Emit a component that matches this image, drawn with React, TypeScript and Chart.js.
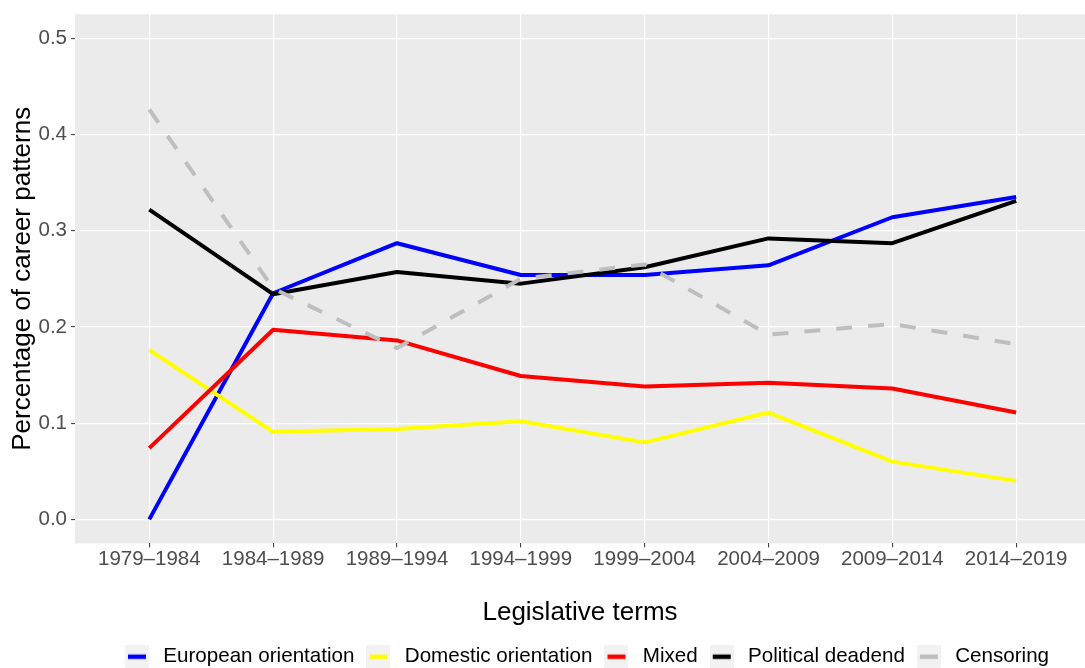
import React, { useEffect, useRef } from 'react';
import { Chart, registerables } from 'chart.js';

Chart.register(...registerables);

const terms = ['1979–1984', '1984–1989', '1989–1994', '1994–1999', '1999–2004', '2004–2009', '2009–2014', '2014–2019'];

const european = [0.0, 0.235, 0.287, 0.254, 0.254, 0.264, 0.314, 0.335];
const domestic = [0.176, 0.091, 0.094, 0.102, 0.08, 0.111, 0.06, 0.04];
const mixed = [0.074, 0.197, 0.186, 0.149, 0.138, 0.142, 0.136, 0.111];
const deadend = [0.322, 0.234, 0.257, 0.245, 0.262, 0.292, 0.287, 0.331];
const censoring = [0.426, 0.24, 0.178, 0.25, 0.265, 0.192, 0.203, 0.182];

const seriesNames = ['European orientation', 'Domestic orientation', 'Mixed', 'Political deadend', 'Censoring'];
const seriesValues = [european, domestic, mixed, deadend, censoring];
const seriesColors = ['#0000FF', '#FFFF00', '#FF0000', '#000000', '#BEBEBE'];
const seriesDashed = [false, false, false, false, true];

const yTickValues = [0, 0.1, 0.2, 0.3, 0.4, 0.5];

const FONT = "'Liberation Sans', Arial, Helvetica, sans-serif";

function makeKey(color: string): HTMLCanvasElement {
  const c = document.createElement('canvas');
  c.width = 24;
  c.height = 24;
  const ctx = c.getContext('2d')!;
  ctx.fillStyle = '#F2F2F2';
  ctx.fillRect(0, 0, 24, 24);
  ctx.strokeStyle = color;
  ctx.lineWidth = 4.5;
  ctx.lineCap = 'butt';
  ctx.beginPath();
  ctx.moveTo(3, 12);
  ctx.lineTo(21, 12);
  ctx.stroke();
  return c;
}

const panelBg = {
  id: 'panelBg',
  afterLayout(chart: any) {
    const lg = chart.legend;
    if (lg) {
      lg.left += 5;
      lg.right += 5;
    }
  },
  beforeDraw(chart: any) {
    const { ctx, chartArea } = chart;
    ctx.save();
    ctx.fillStyle = '#EBEBEB';
    ctx.fillRect(chartArea.left, chartArea.top, chartArea.right - chartArea.left, chartArea.bottom - chartArea.top);
    ctx.restore();
  },
};

export default function App() {
  const ref = useRef<HTMLCanvasElement>(null);

  useEffect(() => {
    document.body.style.margin = '0';
    const keys = seriesColors.map((c) => makeKey(c));
    const datasets = seriesNames.map((name, i) => ({
      label: name,
      data: seriesValues[i].map((v, j) => ({ x: j, y: v })),
      borderColor: seriesColors[i],
      backgroundColor: seriesColors[i],
      borderWidth: 4,
      borderDash: seriesDashed[i] ? [16, 16] : [],
      borderCapStyle: 'butt',
      borderJoinStyle: 'round',
      pointRadius: 0,
      pointHoverRadius: 0,
      tension: 0,
      fill: false,
      order: seriesNames.length - 1 - i,
    }));

    const chart = new Chart(ref.current!, {
      type: 'line',
      data: { datasets },
      plugins: [panelBg],
      options: {
        responsive: false,
        animation: false,
        layout: { padding: { top: 10, right: 0, bottom: -9, left: 0 } },
        plugins: {
          tooltip: { enabled: false },
          legend: {
            position: 'bottom',
            fullSize: false,
            labels: {
              usePointStyle: true,
              pointStyleWidth: 32,
              padding: 8,
              color: '#000000',
              font: { size: 20.6, family: FONT },
              generateLabels: (ch: any) =>
                ch.data.datasets.map((ds: any, i: number) => ({
                  text: ds.label,
                  pointStyle: keys[i],
                  fillStyle: seriesColors[i],
                  strokeStyle: seriesColors[i],
                  lineWidth: 0,
                  hidden: false,
                  datasetIndex: i,
                  fontColor: '#000000',
                })),
            },
          },
        },
        scales: {
          x: {
            type: 'linear',
            min: -0.6,
            max: 7.556,
            afterBuildTicks: (s: any) => {
              s.ticks = terms.map((_, i) => ({ value: i }));
            },
            afterFit: (s: any) => {
              s.height = 95;
            },
            ticks: {
              autoSkip: false,
              maxRotation: 0,
              padding: 0,
              color: '#4D4D4D',
              font: { size: 20.5, family: FONT },
              callback: (v: any) => terms[Math.round(Number(v))],
            },
            grid: { color: '#FFFFFF', lineWidth: 1.2, tickColor: '#333333', tickLength: 4, tickWidth: 1 },
            border: { display: false },
            title: {
              display: true,
              text: 'Legislative terms',
              color: '#000000',
              font: { size: 26, family: FONT },
              padding: { top: 0, bottom: 10 },
            },
          },
          y: {
            type: 'linear',
            min: -0.025,
            max: 0.525,
            afterBuildTicks: (s: any) => {
              s.ticks = yTickValues.map((v) => ({ value: v }));
            },
            afterFit: (s: any) => {
              s.width = 75;
            },
            ticks: {
              padding: 4,
              color: '#4D4D4D',
              font: { size: 20.5, family: FONT, lineHeight: 1 },
              callback: (v: any) => Number(v).toFixed(1),
            },
            grid: { color: '#FFFFFF', lineWidth: 1.2, tickColor: '#333333', tickLength: 4, tickWidth: 1 },
            border: { display: false },
            title: {
              display: true,
              text: 'Percentage of career patterns',
              color: '#000000',
              font: { size: 26, family: FONT },
              padding: { top: 7, bottom: 0 },
            },
          },
        },
      } as any,
    } as any);
    return () => chart.destroy();
  }, []);

  return <canvas ref={ref} width={1085} height={668} style={{ display: 'block', width: 1085, height: 668 }} />;
}
